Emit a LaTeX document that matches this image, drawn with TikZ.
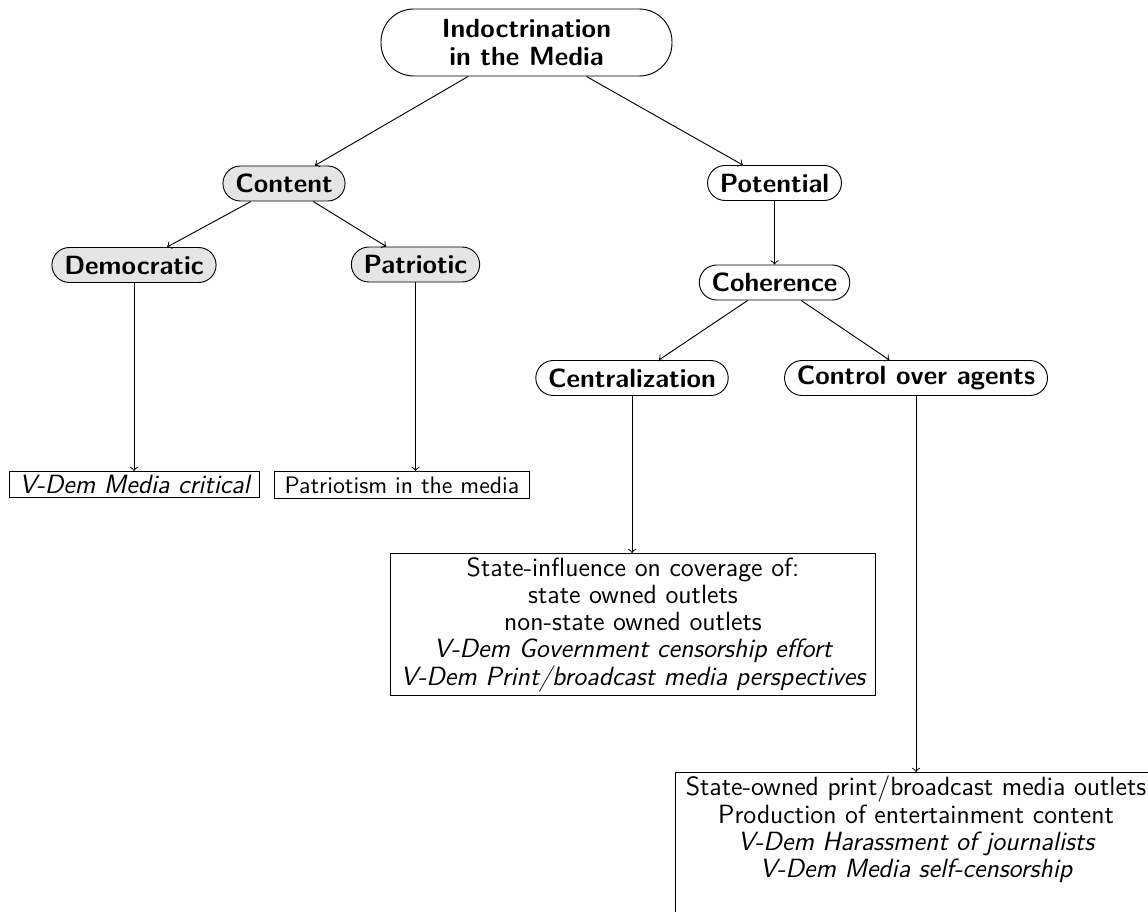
\documentclass[tikz,border=0pt]{standalone}
\begin{document}
\begin{tikzpicture}[x=0.42857pt,y=-0.42857pt,
  every node/.style={font=\fontsize{11.3}{11.7}\selectfont\sffamily},
  pill/.style={draw, rounded corners=7.5pt, font=\fontsize{11.3}{12}\selectfont\sffamily\bfseries, inner xsep=5.3pt, inner ysep=2pt, minimum height=15pt},
  gpill/.style={pill, fill=black!10},
  leaf/.style={draw, align=center, inner xsep=4.3pt, inner ysep=1.6pt, anchor=north},
  conn/.style={->, line width=0.4pt}]
\useasboundingbox (0,0) rectangle (1148,911);
\node[pill, align=center, rounded corners=14pt, minimum width=124.7pt, minimum height=28.7pt] (root) at (526.5,42.5) {Indoctrination\\in the Media};
\node[gpill] (content) at (284,183.5) {Content};
\node[pill] (potential) at (774.5,183) {Potential};
\node[gpill] (dem) at (134,265) {Democratic};
\node[gpill] (pat) at (415.5,264.5) {Patriotic};
\node[pill] (coh) at (774.5,282.5) {Coherence};
\node[pill] (cen) at (632,378) {Centralization};
\node[pill] (ctrl) at (916,378) {Control over agents};
\node[leaf] (vdem) at (134.5,471) {\itshape V-Dem Media critical};
\node[leaf, font=\fontsize{10.2}{12}\selectfont\sffamily, minimum height=11.6pt] (patm) at (402,471) {Patriotism in the media};
\node[leaf] (state) at (633,553) {State-influence on coverage of:\\state owned outlets\\non-state owned outlets\\\itshape V-Dem Government censorship effort\\\itshape V-Dem Print/broadcast media perspectives};
\node[leaf] (bot) at (916,772) {State-owned print/broadcast media outlets\\Production of entertainment content\\\itshape V-Dem Harassment of journalists\\\itshape V-Dem Media self-censorship\rule[-22pt]{0pt}{1pt}};
\draw[conn] (root) -- (content);
\draw[conn] (root) -- (potential);
\draw[conn] (content) -- (dem);
\draw[conn] (content) -- (pat);
\draw[conn] (potential) -- (coh);
\draw[conn] (coh) -- (cen);
\draw[conn] (coh) -- (ctrl);
\draw[conn] (dem.south) -- (dem.south |- vdem.north);
\draw[conn] (pat.south) -- (pat.south |- patm.north);
\draw[conn] (cen.south) -- (cen.south |- state.north);
\draw[conn] (ctrl.south) -- (ctrl.south |- bot.north);
\end{tikzpicture}
\end{document}
